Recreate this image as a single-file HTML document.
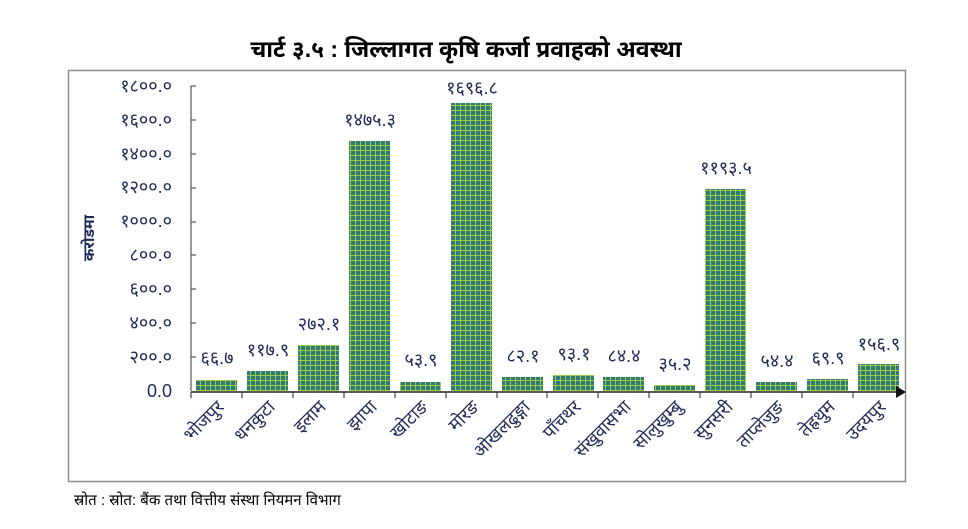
<!DOCTYPE html>
<html><head><meta charset="utf-8"><style>
html,body{margin:0;padding:0;background:#fff;}
svg{display:block;font-family:"Liberation Sans","Noto Sans Devanagari","Lohit Devanagari",sans-serif;}
</style></head><body>
<svg width="968" height="529" viewBox="0 0 968 529" xmlns="http://www.w3.org/2000/svg">
<defs>
<pattern id="g" width="5" height="5" patternUnits="userSpaceOnUse">
<rect width="5" height="5" fill="#2e7a78"/>
<rect x="0" y="0" width="5" height="1" fill="#9dcc42"/>
<rect x="0" y="0" width="1" height="5" fill="#9dcc42"/>
</pattern>
</defs>
<text x="466" y="57" text-anchor="middle" font-size="23" font-weight="bold" fill="#000">चार्ट ३.५ : जिल्लागत कृषि कर्जा प्रवाहको अवस्था</text>
<rect x="68.5" y="70.5" width="837" height="411" fill="none" stroke="#8c8c8c" stroke-width="1.5"/>
<g font-size="18" fill="#1f2a5a" text-anchor="end">
<text x="172" y="397">0.0</text>
<text x="172" y="363">२००.०</text>
<text x="172" y="329">४००.०</text>
<text x="172" y="295">६००.०</text>
<text x="172" y="261">८००.०</text>
<text x="172" y="227">१०००.०</text>
<text x="172" y="193">१२००.०</text>
<text x="172" y="160">१४००.०</text>
<text x="172" y="126">१६००.०</text>
<text x="172" y="92">१८००.०</text>
</g>
<text transform="translate(94,238) rotate(-90)" text-anchor="middle" font-size="15" font-weight="bold" fill="#1f2a5a">करोडमा</text>
<g stroke="#555" stroke-width="1.2">
<line x1="191" y1="86" x2="191" y2="391"/>
<line x1="191" y1="86" x2="196" y2="86"/><line x1="191" y1="120" x2="196" y2="120"/><line x1="191" y1="154" x2="196" y2="154"/><line x1="191" y1="188" x2="196" y2="188"/><line x1="191" y1="222" x2="196" y2="222"/><line x1="191" y1="255" x2="196" y2="255"/><line x1="191" y1="289" x2="196" y2="289"/><line x1="191" y1="323" x2="196" y2="323"/><line x1="191" y1="357" x2="196" y2="357"/>
</g>
<g fill="url(#g)">
<rect x="196" y="380" width="41" height="11"/>
<rect x="247" y="371" width="41" height="20"/>
<rect x="298" y="345" width="41" height="46"/>
<rect x="349" y="141" width="41" height="250"/>
<rect x="400" y="382" width="41" height="9"/>
<rect x="451" y="103" width="41" height="288"/>
<rect x="502" y="377" width="41" height="14"/>
<rect x="553" y="375" width="41" height="16"/>
<rect x="603" y="377" width="41" height="14"/>
<rect x="654" y="385" width="41" height="6"/>
<rect x="705" y="189" width="41" height="202"/>
<rect x="756" y="382" width="41" height="9"/>
<rect x="807" y="379" width="41" height="12"/>
<rect x="858" y="364" width="41" height="27"/>
</g>
<g stroke="#222" stroke-width="1.5">
<line x1="191" y1="392" x2="898" y2="392"/>
</g>
<polygon points="896,386 906,392 896,398" fill="#111"/>
<g stroke="#444" stroke-width="1.2">
<line x1="191" y1="392" x2="191" y2="398"/><line x1="242" y1="392" x2="242" y2="398"/><line x1="293" y1="392" x2="293" y2="398"/><line x1="344" y1="392" x2="344" y2="398"/><line x1="395" y1="392" x2="395" y2="398"/><line x1="446" y1="392" x2="446" y2="398"/><line x1="497" y1="392" x2="497" y2="398"/><line x1="547" y1="392" x2="547" y2="398"/><line x1="598" y1="392" x2="598" y2="398"/><line x1="649" y1="392" x2="649" y2="398"/><line x1="700" y1="392" x2="700" y2="398"/><line x1="751" y1="392" x2="751" y2="398"/><line x1="802" y1="392" x2="802" y2="398"/><line x1="853" y1="392" x2="853" y2="398"/>
</g>
<g font-size="18" fill="#1f2a5a" text-anchor="middle">
<text x="217" y="364">६६.७</text>
<text x="268" y="356">११७.९</text>
<text x="319" y="330">२७२.१</text>
<text x="370" y="126">१४७५.३</text>
<text x="421" y="366">५३.९</text>
<text x="472" y="94">१६९६.८</text>
<text x="523" y="362">८२.१</text>
<text x="574" y="360">९३.१</text>
<text x="624" y="362">८४.४</text>
<text x="675" y="370">३५.२</text>
<text x="726" y="174">११९३.५</text>
<text x="777" y="367">५४.४</text>
<text x="828" y="364">६९.९</text>
<text x="879" y="350">१५६.९</text>
</g>
<g font-size="18" fill="#1f2a5a" text-anchor="end">
<text transform="translate(225,408) rotate(-45)">भोजपुर</text>
<text transform="translate(276,408) rotate(-45)">धनकुटा</text>
<text transform="translate(327,408) rotate(-45)">इलाम</text>
<text transform="translate(378,408) rotate(-45)">झापा</text>
<text transform="translate(429,408) rotate(-45)">खोटाङ</text>
<text transform="translate(480,408) rotate(-45)">मोरङ</text>
<text transform="translate(531,408) rotate(-45)">ओखलढुङ्गा</text>
<text transform="translate(582,408) rotate(-45)">पाँचथर</text>
<text transform="translate(632,408) rotate(-45)">संखुवासभा</text>
<text transform="translate(683,408) rotate(-45)">सोलुखुम्बु</text>
<text transform="translate(734,408) rotate(-45)">सुनसरी</text>
<text transform="translate(785,408) rotate(-45)">ताप्लेजुङ</text>
<text transform="translate(836,408) rotate(-45)">तेह्रथुम</text>
<text transform="translate(887,408) rotate(-45)">उदयपुर</text>
</g>
<text x="74" y="505" font-size="15" fill="#000">स्रोत : स्रोत: बैंक तथा वित्तीय संस्था नियमन विभाग</text>
</svg>
</body></html>
